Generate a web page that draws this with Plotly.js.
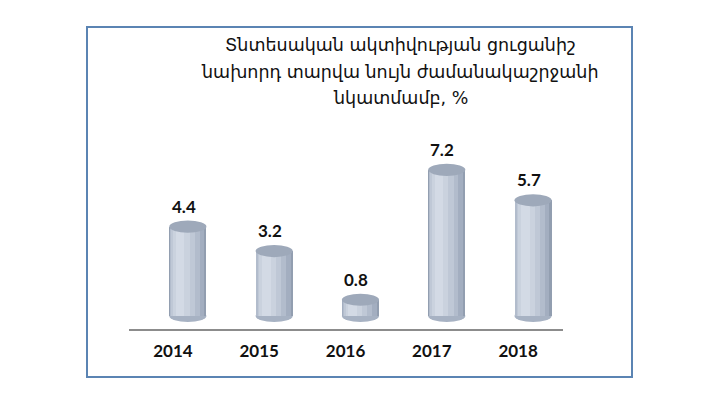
<!DOCTYPE html>
<html>
<head>
<meta charset="utf-8">
<script src="https://cdn.plot.ly/plotly-3.0.1.min.js"></script>
<style>html,body{margin:0;padding:0;background:#fff;}#chart{width:720px;height:409px;}</style>
</head>
<body>
<div id="chart"></div>
<script>
const categories = ["2014", "2015", "2016", "2017", "2018"];
const values = [4.4, 3.2, 0.8, 7.2, 5.7];
const valueLabels = ["4.4", "3.2", "0.8", "7.2", "5.7"];
const titleLines = [
  "Տնտեսական ակտիվության ցուցանիշ",
  "նախորդ տարվա նույն ժամանակաշրջանի",
  "նկատմամբ, %"
];

const W = 720, H = 409;
const M = {l: 129, r: 157, t: 140, b: 80};
const PW = W - M.l - M.r, PH = H - M.t - M.b;
const px = x => (x - M.l) / PW;
const py = y => (H - M.b - y) / PH;

const BW = 0.43;      // cylinder width (category units)
const SHIFT = 0.173;  // perspective shift of cylinders to the right of tick labels
const idx = categories.map((c, i) => i);
// cylinder shading layers: [width, offset from bar left, color]
const layers = [
  [BW, 0, "#929eb0"],
  [0.40, 0.005, "#a3aec0"],
  [0.34, 0.01, "#b2bccc"],
  [0.27, 0.025, "#bfc8d6"],
  [0.19, 0.045, "#cad2de"],
  [0.10, 0.075, "#d3dae5"]
];
const traces = layers.map(l => ({
  type: "bar",
  x: idx,
  y: values,
  width: l[0],
  offset: SHIFT - BW / 2 + l[1],
  marker: {color: l[2], line: {width: 0}},
  hoverinfo: "skip",
  showlegend: false
}));

const shapes = [];
const EH = 0.3;
idx.forEach((i) => {
  const x0 = i + SHIFT - BW / 2, x1 = i + SHIFT + BW / 2;
  shapes.push({type: "circle", xref: "x", yref: "y", x0: x0, x1: x1,
    y0: -EH, y1: EH, fillcolor: "#a7b2c3", line: {width: 0}, layer: "below"});
  shapes.push({type: "circle", xref: "x", yref: "y", x0: x0, x1: x1,
    y0: values[i] - EH, y1: values[i] + EH, fillcolor: "#9ea9ba", line: {width: 0}, layer: "above"});
});
shapes.push({type: "rect", xref: "paper", yref: "paper", x0: px(87), x1: px(632),
  y0: py(377), y1: py(27), line: {color: "#5b84b3", width: 2}, fillcolor: "rgba(0,0,0,0)"});

const annotations = idx.map(i => ({
  x: i + SHIFT - 0.05, y: values[i] + EH, xref: "x", yref: "y", text: valueLabels[i], showarrow: false,
  yanchor: "bottom", yshift: 2,
  font: {family: "Lato, 'Open Sans', sans-serif", size: 17, color: "#111", weight: "bold"}
}));
const titleY = [45, 72, 98];
titleLines.forEach((t, k) => annotations.push({
  xref: "paper", yref: "paper", x: px(400), y: py(titleY[k]), text: t,
  showarrow: false, xanchor: "center", yanchor: "middle",
  font: {family: "'DejaVu Sans', sans-serif", size: 17.5, color: "#111"}
}));

const layout = {
  width: W, height: H,
  margin: M,
  paper_bgcolor: "#fff", plot_bgcolor: "#fff",
  barmode: "overlay",
  bargap: 0,
  showlegend: false,
  xaxis: {
    range: [-0.509, 4.52], tickvals: idx, ticktext: categories,
    showline: true, linecolor: "#8c8c8c", linewidth: 2, showgrid: false, zeroline: false,
    ticks: "outside", ticklen: 6, tickcolor: "rgba(0,0,0,0)",
    tickfont: {family: "Lato, 'Open Sans', sans-serif", size: 17, color: "#111", weight: "bold"},
    fixedrange: true
  },
  yaxis: {
    range: [-0.64, 8.67], visible: false, showgrid: false, zeroline: false, fixedrange: true
  },
  shapes: shapes,
  annotations: annotations
};
Plotly.newPlot("chart", traces, layout, {staticPlot: true, displayModeBar: false});
</script>
</body>
</html>
